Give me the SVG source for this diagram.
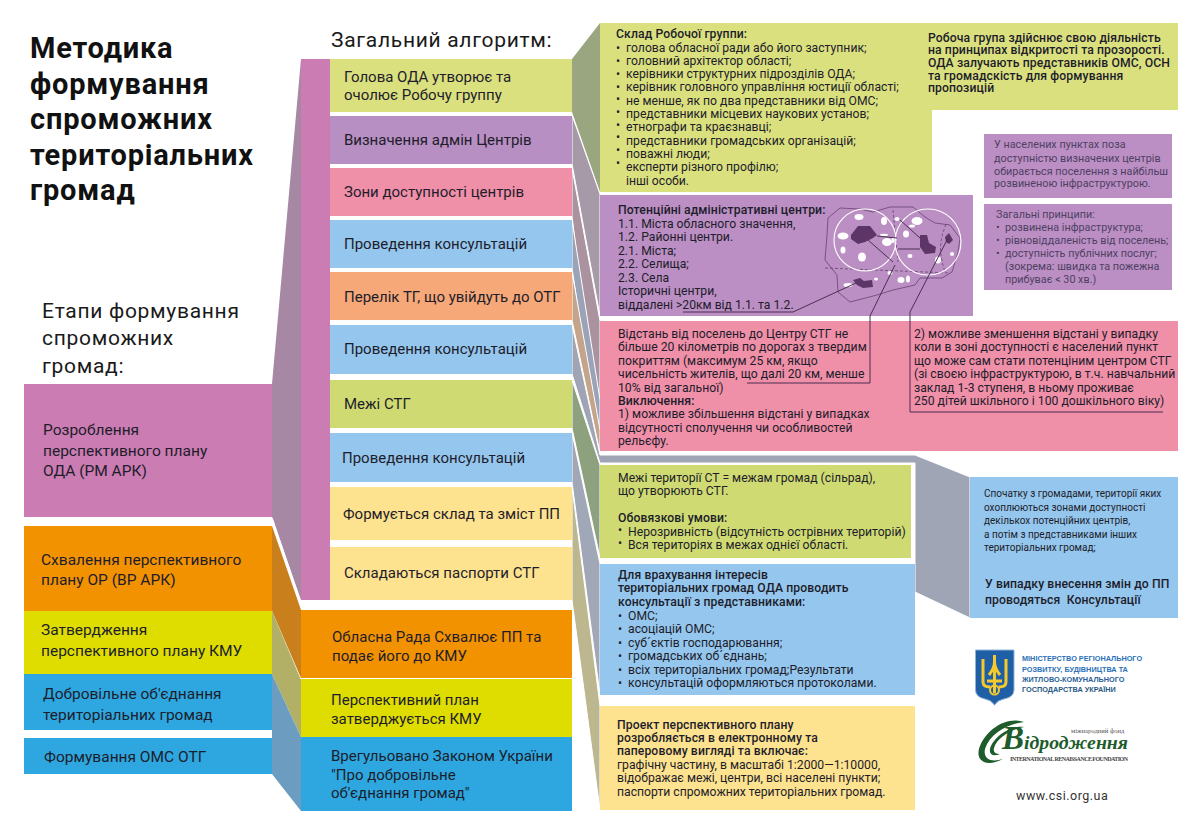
<svg xmlns="http://www.w3.org/2000/svg" width="1200" height="829" viewBox="0 0 1200 829">
<style>
text{font-family:"Roboto","Noto Sans",sans-serif;fill:#1d1d2b;white-space:pre}
.ttl{font-weight:700;font-size:29px;letter-spacing:.8px;fill:#111}
.hd{font-size:21px;letter-spacing:.7px;fill:#1a1a1a}
.l{font-size:15.5px}
.m{font-size:15px}
.s{font-size:12.2px}
.b{font-weight:500;letter-spacing:.1px}
.pl{font-size:10.8px;fill:#4e3f63}
.tn{font-size:10px}
.w{stroke:#fff;stroke-width:1}
.lnk{fill:none;stroke:#4a2f52;stroke-width:1}
.mapw{fill:#fff}
.mapd{fill:#5d3667}
.mn{font-family:"Liberation Sans",sans-serif;font-weight:700;font-size:7.3px}
.sr{font-family:"Liberation Serif",serif}
</style>
<rect width="1200" height="829" fill="#fff"/>
<g id="connectors">
<polygon fill="#a688a5" points="272,384 301,59 301,600 272,517"/>
<polygon fill="#c97f1b" points="272,526 301,610 301,678 272,611"/>
<polygon fill="#b1b066" points="272,611 301,680 301,737 272,674"/>
<polygon fill="#6c9dc0" points="272,674 301,737 301,811 272,774"/>
<polygon fill="#9aa680" points="572,59 600,23 600,192 572,112"/>
<polygon class="w" fill="#a79aa8" points="572,115 600,194 600,316 572,164"/>
<polygon class="w" fill="#ab929f" points="572,168 600,321 600,451 572,216"/>
<polygon class="w" fill="#9aa3b8" points="572,220 600,400 600,453 572,268"/>
<polygon class="w" fill="#c4a58b" points="572,272 600,430 600,453 572,320"/>
<polygon class="w" fill="#9fa5b5" points="572,325 600,455 915,455 970,477 970,618 915,592 915,463 600,463 572,374"/>
<polygon class="w" fill="#8ea17e" points="572,380 600,465 600,558 572,428"/>
<polygon class="w" fill="#a0a7b6" points="572,433 600,564 600,695 572,482"/>
<polygon class="w" fill="#bcb78f" points="572,487 600,706 600,810 572,600"/>
<line x1="272" y1="518" x2="301" y2="604" stroke="#fff" stroke-width="1.500"/>
</g>
<g id="title">
<text class="ttl" x="30" y="58">Методика</text>
<text class="ttl" x="30" y="94">формування</text>
<text class="ttl" x="30" y="129">спроможних</text>
<text class="ttl" x="30" y="165">територіальних</text>
<text class="ttl" x="30" y="200">громад</text>
</g>
<text class="hd" x="331" y="47">Загальний алгоритм:</text>
<g id="stages-title">
<text class="hd" x="42" y="318">Етапи формування</text>
<text class="hd" x="42" y="345">спроможних</text>
<text class="hd" x="42" y="373">громад:</text>
</g>
<g id="stage-1"><rect x="24" y="384" width="248" height="133" fill="#cb7cb2"/><text class="l" x="43" y="435">Розроблення</text><text class="l" x="43" y="456">перспективного плану</text><text class="l" x="43" y="476">ОДА (РМ АРК)</text></g>
<g id="stage-2"><rect x="24" y="526" width="248" height="85" fill="#f39200"/><text class="l" x="41" y="565">Схвалення перспективного</text><text class="l" x="41" y="585">плану ОР (ВР АРК)</text></g>
<g id="stage-3"><rect x="24" y="611" width="248" height="63" fill="#dfdd00"/><text class="l" x="41" y="635">Затвердження</text><text class="l" x="41" y="656">перспективного плану КМУ</text></g>
<g id="stage-4"><rect x="24" y="674" width="248" height="56" fill="#2ea7e0"/><text class="l" x="43" y="699">Добровільне об'єднання</text><text class="l" x="43" y="720">територіальних громад</text></g>
<g id="stage-5"><rect x="24" y="738" width="248" height="36" fill="#2ea7e0"/><text class="l" x="44" y="762">Формування ОМС ОТГ</text></g>
<rect id="spine" x="301" y="59" width="29" height="541" fill="#cb7cb2"/>
<g id="a1"><rect x="330" y="59" width="242" height="53" fill="#dbe07f"/><text class="m" x="344" y="82">Голова ОДА утворює та</text><text class="m" x="344" y="100">очолює Робочу группу</text></g>
<g id="a2"><rect x="330" y="116" width="242" height="48" fill="#b88fc2"/><text class="m" x="344" y="145">Визначення адмін Центрів</text></g>
<g id="a3"><rect x="330" y="168" width="242" height="48" fill="#f08fa8"/><text class="m" x="344" y="197">Зони доступності центрів</text></g>
<g id="a4"><rect x="330" y="220" width="242" height="48" fill="#95c6ed"/><text class="m" x="344" y="249">Проведення консультацій</text></g>
<g id="a5"><rect x="330" y="272" width="242" height="48" fill="#f6a878"/><text class="m" x="344" y="302">Перелік ТГ, що увійдуть до ОТГ</text></g>
<g id="a6"><rect x="330" y="325" width="242" height="49" fill="#95c6ed"/><text class="m" x="344" y="354">Проведення консультацій</text></g>
<g id="a7"><rect x="330" y="380" width="242" height="48" fill="#cfdb72"/><text class="m" x="344" y="409">Межі СТГ</text></g>
<g id="a8"><rect x="330" y="433" width="242" height="49" fill="#95c6ed"/><text class="m" x="342" y="463">Проведення консультацій</text></g>
<g id="a9"><rect x="330" y="487" width="242" height="53" fill="#fde28f"/><text class="m" x="343" y="519">Формується склад та зміст ПП</text></g>
<g id="a10"><rect x="330" y="547" width="242" height="53" fill="#fde28f"/><text class="m" x="344" y="578">Складаються паспорти СТГ</text></g>
<g id="a11"><rect x="301" y="610" width="271" height="68" fill="#f39200"/><text class="m" x="332" y="642">Обласна Рада Схвалює ПП та</text><text class="m" x="332" y="661">подає його до КМУ</text></g>
<g id="a12"><rect x="301" y="679" width="271" height="58" fill="#dfdd00"/><text class="m" x="331" y="705">Перспективний план</text><text class="m" x="331" y="724">затверджується КМУ</text></g>
<g id="a13"><rect x="301" y="737" width="271" height="74" fill="#2ea7e0"/><text class="m" x="331" y="761">Врегульовано Законом України</text><text class="m" x="331" y="780">"Про добровільне</text><text class="m" x="331" y="798">об'єднання громад"</text></g>
<g id="group-composition"><rect x="600" y="23" width="332" height="169" fill="#dbe07f"/>
<text class="s b" x="616" y="38">Склад Робочої группи:</text>
<text class="s" x="616" y="52">•</text><text class="s" x="626" y="52">голова обласної ради або його заступник;</text>
<text class="s" x="616" y="65">•</text><text class="s" x="626" y="65">головний архітектор області;</text>
<text class="s" x="616" y="78">•</text><text class="s" x="626" y="78">керівники структурних підрозділів ОДА;</text>
<text class="s" x="616" y="91">•</text><text class="s" x="626" y="91">керівник головного управління юстиції області;</text>
<text class="s" x="616" y="103">•</text><text class="s" x="626" y="105">не менше, як по два представники від ОМС;</text>
<text class="s" x="616" y="116">•</text><text class="s" x="626" y="118">представники місцевих наукових установ;</text>
<text class="s" x="616" y="129">•</text><text class="s" x="626" y="131">етнографи та краєзнавці;</text>
<text class="s" x="616" y="141">•</text><text class="s" x="626" y="145">представники громадських організацій;</text>
<text class="s" x="616" y="154">•</text><text class="s" x="626" y="158">поважні люди;</text>
<text class="s" x="616" y="167">•</text><text class="s" x="626" y="171">експерти різного профілю;</text>
<text class="s" x="626" y="185">інші особи.</text></g>
<g id="open-note"><rect x="917" y="23" width="261" height="87" fill="#dbe07f"/>
<text class="s b" x="928" y="42">Робоча група здійснює свою діяльність</text>
<text class="s b" x="928" y="54">на принципах відкритості та прозорості.</text>
<text class="s b" x="928" y="67">ОДА залучають представників ОМС, ОСН</text>
<text class="s b" x="928" y="80">та громадскість для формування</text>
<text class="s b" x="928" y="92">пропозицій</text></g>
<g id="settlement-note"><rect x="984" y="134" width="188" height="64" fill="#bb8fc3"/>
<text class="pl" x="994" y="148">У населених пунктах поза</text>
<text class="pl" x="994" y="162">доступністю визначених центрів</text>
<text class="pl" x="994" y="175">обирається поселення з найбільш</text>
<text class="pl" x="994" y="187">розвиненою інфраструктурою.</text></g>
<g id="principles"><rect x="984" y="204" width="188" height="86" fill="#bb8fc3"/>
<text class="pl" x="996" y="218">Загальні принципи:</text>
<text class="pl" x="996" y="231">•</text><text class="pl" x="1005" y="231">розвинена інфраструктура;</text>
<text class="pl" x="996" y="244">•</text><text class="pl" x="1005" y="244">рівновіддаленість від поселень;</text>
<text class="pl" x="996" y="257">•</text><text class="pl" x="1005" y="257">доступність публічних послуг;</text>
<text class="pl" x="1005" y="270">(зокрема: швидка та пожежна</text>
<text class="pl" x="1005" y="283">прибуває &lt; 30 хв.)</text></g>
<g id="centres"><rect x="600" y="195" width="373" height="121" fill="#bb8fc3"/>
<text class="s b" x="618" y="214">Потенційні адміністративні центри:</text>
<text class="s" x="618" y="228">1.1. Міста обласного значення,</text>
<text class="s" x="618" y="241">1.2. Районні центри.</text>
<text class="s" x="618" y="255">2.1. Міста;</text>
<text class="s" x="618" y="268">2.2. Селища;</text>
<text class="s" x="618" y="282">2.3. Села</text>
<text class="s" x="618" y="295">Історичні центри,</text>
<text class="s" x="618" y="309">віддалені &gt;20км від 1.1. та 1.2.</text>
<g id="map">
<polygon fill="none" stroke="#5d3667" stroke-width=".7" points="828,218 840,208 860,209 873,212 890,207 913,207 925,217 935,223 950,225 960,238 958,252 952,272 942,278 920,278 915,285 893,290 877,295 850,302 838,292 837,275 825,260 827,235"/>
<path fill="none" stroke="#5d3667" stroke-width=".7" stroke-dasharray="3 2" d="M825 268L950 273M893 210L898 262M946 224C940 240 938 250 945 272"/>
<circle cx="865" cy="240" r="31" fill="none" stroke="#fff" stroke-width="1.100"/>
<circle cx="928" cy="242" r="33" fill="none" stroke="#fff" stroke-width="1.100"/>
<ellipse class="mapw" cx="859" cy="217" rx="4.500" ry="3"/><ellipse class="mapw" cx="884" cy="221" rx="3" ry="4"/><ellipse class="mapw" cx="843" cy="236" rx="5.500" ry="3.500"/><ellipse class="mapw" cx="843" cy="250" rx="2.500" ry="3.500"/><ellipse class="mapw" cx="862" cy="257" rx="4" ry="4.500"/><ellipse class="mapw" cx="887" cy="242" rx="5" ry="4"/><ellipse class="mapw" cx="917" cy="221" rx="5.500" ry="4"/><ellipse class="mapw" cx="906" cy="234" rx="3" ry="3.500"/><ellipse class="mapw" cx="897" cy="219" rx="2.500" ry="2"/><ellipse class="mapw" cx="910" cy="256" rx="2.500" ry="2"/><ellipse class="mapw" cx="938" cy="260" rx="3" ry="3.500"/><ellipse class="mapw" cx="952" cy="254" rx="2" ry="2"/><ellipse class="mapw" cx="890" cy="273" rx="2.500" ry="2"/><ellipse class="mapw" cx="901" cy="280" rx="3.500" ry="3"/><ellipse class="mapw" cx="908" cy="279" rx="2" ry="3.500"/><ellipse class="mapw" cx="848" cy="285" rx="4.500" ry="2"/><ellipse class="mapw" cx="876" cy="279" rx="2" ry="1.500"/><ellipse class="mapw" cx="884" cy="235" rx="4" ry="1.200"/><ellipse class="mapw" cx="912" cy="226" rx="3" ry="1.500"/><ellipse class="mapw" cx="893" cy="240" rx="1.500" ry="3"/>
<polygon class="mapd" points="851,235 858,226 870,226 877,235 873,238 865,242 858,244 851,239"/>
<polygon class="mapd" points="920,235 927,235 929,243 936,247 935,253 925,254 920,247"/>
<polygon class="mapd" points="945,237 949,233 953,240 949,244 946,242"/>
<polygon class="mapd" points="853,280 860,278 864,281 872,280 873,287 863,288 857,285"/>
<path class="lnk" d="M868,240L893,262M877,236L897,238M898,249H920M900,220L920,238"/>
</g>
</g>
<g id="distance"><rect x="600" y="321" width="578" height="130" fill="#f08fa8"/>
<text class="s" x="618" y="338">Відстань від поселень до Центру СТГ не</text>
<text class="s" x="618" y="351">більше 20 кілометрів по дорогах з твердим</text>
<text class="s" x="618" y="365">покриттям (максимум 25 км, якщо</text>
<text class="s" x="618" y="378">чисельність жителів, що далі 20 км, менше</text>
<text class="s" x="618" y="392">10% від загальної)</text>
<text class="s b" x="618" y="405">Виключення:</text>
<text class="s" x="618" y="418">1) можливе збільшення відстані у випадках</text>
<text class="s" x="618" y="432">відсутності сполучення чи особливостей</text>
<text class="s" x="618" y="445">рельєфу.</text>
<text class="s" x="914" y="338">2) можливе зменшення відстані у випадку</text>
<text class="s" x="914" y="351">коли в зоні доступності є населений пункт</text>
<text class="s" x="914" y="365">що може сам стати потенціним центром СТГ</text>
<text class="s" x="914" y="378">(зі своєю інфраструктурою, в т.ч. навчальний</text>
<text class="s" x="914" y="392">заклад 1-3 ступеня, в ньому проживає</text>
<text class="s" x="914" y="405">250 дітей шкільного і 100 дошкільного віку)</text></g>
<g id="leaders">
<path class="lnk" d="M683,312H793L856,283"/>
<path class="lnk" d="M747,383H870V316L895,265"/>
<path class="lnk" d="M1163,412H910V312L948,238"/>
</g>
<g id="boundaries"><rect x="600" y="465" width="311" height="93" fill="#cfdb72"/>
<text class="s" x="618" y="482">Межі території СТ = межам громад (сільрад),</text>
<text class="s" x="618" y="495">що утворюють СТГ.</text>
<text class="s b" x="618" y="522">Обовязкові умови:</text>
<text class="s" x="618" y="534">•</text><text class="s" x="628" y="536">Нерозривність (відсутність острівних територій)</text>
<text class="s" x="618" y="547">•</text><text class="s" x="628" y="549">Вся територіях в межах однієї області.</text></g>
<g id="consultations"><rect x="600" y="564" width="315" height="131" fill="#95c6ed"/>
<text class="s b" x="618" y="579">Для врахування інтересів</text>
<text class="s b" x="618" y="592">територіальних громад ОДА проводить</text>
<text class="s b" x="618" y="606">консультації з представниками:</text>
<text class="s" x="618" y="620">•</text><text class="s" x="628" y="620">ОМС;</text>
<text class="s" x="618" y="633">•</text><text class="s" x="628" y="633">асоціацій ОМС;</text>
<text class="s" x="618" y="647">•</text><text class="s" x="628" y="647">суб´єктів господарювання;</text>
<text class="s" x="618" y="660">•</text><text class="s" x="628" y="660">громадських об´єднань;</text>
<text class="s" x="618" y="674">•</text><text class="s" x="628" y="674">всіх територіальних громад;Результати</text>
<text class="s" x="618" y="687">•</text><text class="s" x="628" y="687">консультацій оформляються протоколами.</text></g>
<g id="project"><rect x="600" y="706" width="315" height="104" fill="#fde28f"/>
<text class="s b" x="617" y="729">Проект перспективного плану</text>
<text class="s b" x="617" y="742">розробляється в електронному та</text>
<text class="s b" x="617" y="755">паперовому вигляді та включає:</text>
<text class="s" x="617" y="769">графічну частину, в масштабі 1:2000—1:10000,</text>
<text class="s" x="617" y="782">відображає межі, центри, всі населені пункти;</text>
<text class="s" x="617" y="796">паспорти спроможних територіальних громад.</text></g>
<g id="changes"><rect x="970" y="477" width="208" height="141" fill="#95c6ed"/>
<text class="tn" x="984" y="497">Спочатку з громадами, території яких</text>
<text class="tn" x="984" y="511">охоплюються зонами доступності</text>
<text class="tn" x="984" y="524">декількох потенційних центрів,</text>
<text class="tn" x="984" y="538">а потім з представниками інших</text>
<text class="tn" x="984" y="551">територіальних громад;</text>
<text class="s b" x="985" y="588">У випадку внесення змін до ПП</text>
<text class="s b" x="985" y="604">проводяться  Консультації</text></g>
<g id="ministry-logo">
<path fill="#1f5fa6" stroke="#8fb3d6" stroke-width="1" d="M975.500 650H1014V690Q1014 697 1004 699Q998 700 994.500 705Q991 700 985 699Q975.500 697 975.500 690Z"/>
<path fill="none" stroke="#f5c92e" stroke-width="3" d="M994.500 655V693M983 659V682Q983 687 990 687M1006 659V682Q1006 687 999 687M989 675Q994.500 668 994.500 662Q994.500 668 1000 675M987 681H1002"/>
<circle cx="994.500" cy="690" r="4.500" fill="none" stroke="#f5c92e" stroke-width="2"/>
<text class="mn" x="1022" y="661" style="fill:#2a70b8">МІНІСТЕРСТВО РЕГІОНАЛЬНОГО</text>
<text class="mn" x="1022" y="672" style="fill:#2a70b8">РОЗВИТКУ, БУДІВНИЦТВА ТА</text>
<text class="mn" x="1022" y="682" style="fill:#2a6099">ЖИТЛОВО-КОМУНАЛЬНОГО</text>
<text class="mn" x="1022" y="692" style="fill:#2a5a85">ГОСПОДАРСТВА УКРАЇНИ</text>
</g>
<g id="irf-logo">
<path fill="#1e5c2b" d="M1024 722C1006 716 985 730 979 749C976 760 985 768 1003 759C990 763 983 758 985 749C990 733 1008 724 1024 722Z"/>
<path fill="#1e5c2b" d="M1024 727C1010 725 993 737 990 749C989 754 993 757 1000 754C995 754 993 752 994 748C997 738 1010 730 1024 727Z"/>
<text class="sr" x="1002" y="749" style="font-style:italic;font-weight:700;font-size:33px;fill:#1e5c2b">В</text>
<text class="sr" x="1024" y="749" textLength="104" lengthAdjust="spacingAndGlyphs" style="font-style:italic;font-weight:700;font-size:19.500px;fill:#1e5c2b">ідродження</text>
<text class="sr" x="1071" y="733" style="font-size:6.600px;fill:#555">міжнародний фонд</text>
<text class="sr" x="1010" y="761" textLength="118" style="font-size:6px;font-weight:700;fill:#444">INTERNATIONAL RENAISSANCE FOUNDATION</text>
</g>
<text x="1016" y="800" style="font-size:12.500px;letter-spacing:.5px;fill:#333">www.csi.org.ua</text>
</svg>
